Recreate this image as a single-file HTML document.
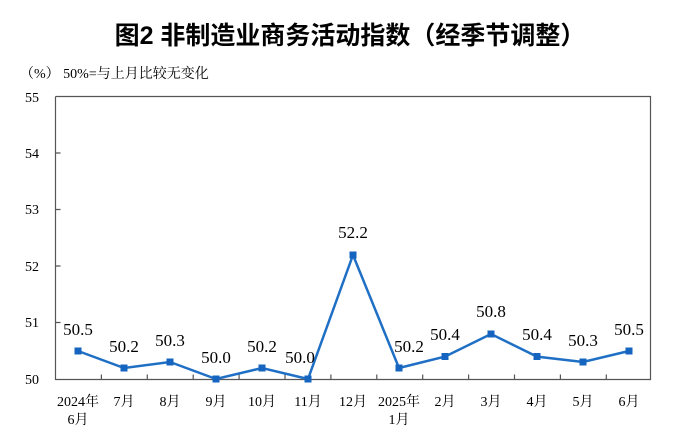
<!DOCTYPE html>
<html><head><meta charset="utf-8"><style>
body{margin:0;background:#fff;width:700px;height:434px;overflow:hidden}
</style></head><body>
<svg width="700" height="434" xmlns="http://www.w3.org/2000/svg" font-family="'Liberation Serif','Noto Serif CJK SC',serif">
<text x="350" y="44" text-anchor="middle" font-size="25" font-family="'Liberation Sans','Noto Sans CJK SC',sans-serif" font-weight="bold" fill="#000">图2  非制造业商务活动指数（经季节调整）</text>
<text x="20" y="78" font-size="14" fill="#000">（%） 50%=与上月比较无变化</text>
<g stroke="#555" stroke-width="1.2" fill="none">
<path d="M55.5 96.5V379.5H650.5V96.5H55.5"/>
<path d="M55.5 153h5M55.5 209.5h5M55.5 266h5M55.5 322.5h5"/>
<path d="M101.4 379.5v-5M147.3 379.5v-5M193.2 379.5v-5M239.1 379.5v-5M285 379.5v-5M330.9 379.5v-5M376.8 379.5v-5M422.7 379.5v-5M468.6 379.5v-5M514.5 379.5v-5M560.4 379.5v-5M606.3 379.5v-5"/>
</g>
<g font-size="14" text-anchor="end" fill="#000">
<text x="39" y="102">55</text><text x="39" y="158">54</text><text x="39" y="214">53</text><text x="39" y="271">52</text><text x="39" y="327">51</text><text x="39" y="384">50</text>
</g>
<g font-size="14" text-anchor="middle" fill="#000">
<text x="78" y="406">2024年</text><text x="78" y="424">6月</text>
<text x="124" y="406">7月</text><text x="170" y="406">8月</text><text x="216" y="406">9月</text><text x="262" y="406">10月</text><text x="308" y="406">11月</text><text x="353" y="406">12月</text>
<text x="399" y="406">2025年</text><text x="399" y="424">1月</text>
<text x="445" y="406">2月</text><text x="491" y="406">3月</text><text x="537" y="406">4月</text><text x="583" y="406">5月</text><text x="629" y="406">6月</text>
</g>
<polyline fill="none" stroke="#1f6fc5" stroke-width="2.5" points="78,351 124,368 170,362 216,379 262,368 308,379 353,255 399,368 445,356.6 491,334 537,356.6 583,362 629,351"/>
<g fill="#1565c0">
<rect x="74.5" y="347.5" width="7" height="7"/><rect x="120.5" y="364.5" width="7" height="7"/><rect x="166.5" y="358.5" width="7" height="7"/><rect x="212.5" y="375.5" width="7" height="7"/><rect x="258.5" y="364.5" width="7" height="7"/><rect x="304.5" y="375.5" width="7" height="7"/><rect x="349.5" y="251.5" width="7" height="7"/><rect x="395.5" y="364.5" width="7" height="7"/><rect x="441.5" y="353" width="7" height="7"/><rect x="487.5" y="330.5" width="7" height="7"/><rect x="533.5" y="353" width="7" height="7"/><rect x="579.5" y="358.5" width="7" height="7"/><rect x="625.5" y="347.5" width="7" height="7"/>
</g>
<g font-size="17" text-anchor="middle" fill="#000">
<text x="78" y="335">50.5</text><text x="124" y="352">50.2</text><text x="170" y="346">50.3</text><text x="216" y="363">50.0</text><text x="262" y="352">50.2</text><text x="300" y="363">50.0</text><text x="353" y="238">52.2</text><text x="409" y="352">50.2</text><text x="445" y="340">50.4</text><text x="491" y="317">50.8</text><text x="537" y="340">50.4</text><text x="583" y="346">50.3</text><text x="629" y="335">50.5</text>
</g>
</svg>
</body></html>
